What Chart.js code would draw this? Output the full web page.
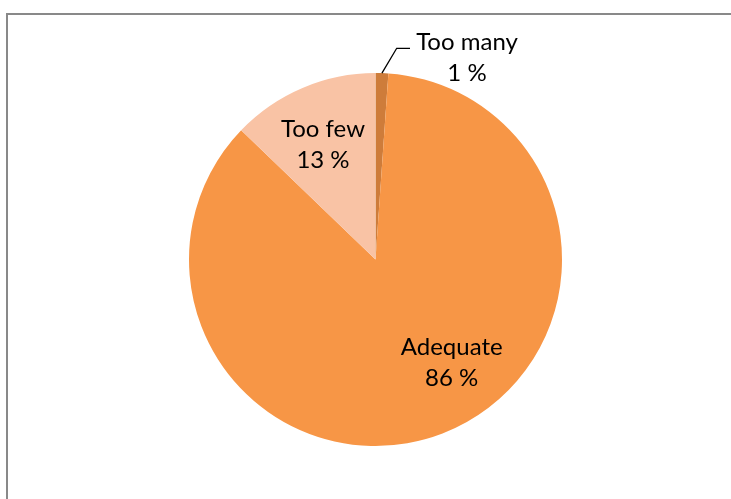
<!DOCTYPE html>
<html>
<head>
<meta charset="utf-8">
<script src="https://cdn.jsdelivr.net/npm/chart.js@4/dist/chart.umd.min.js"></script>
<style>
	body { margin: 0; background: #fff; }
	#wrap { position: relative; width: 731px; height: 499px; }
	#frame { position: absolute; left: 6px; top: 13px; right: 0; bottom: 0; border-top: 2px solid #898989; border-left: 2px solid #898989; }
</style>
</head>
<body>
<div id="wrap">
	<div id="frame"></div>
	<canvas id="pie1" width="731" height="499" style="position:absolute;left:0;top:0;"></canvas>
</div>
<script>
// data
var categories = ["Too many", "Adequate", "Too few"];
var shares = [1.1, 86.1, 12.8];
var shareLabels = ["1 %", "86 %", "13 %"];

var sliceColors = ['rgb(206, 124, 58)', 'rgb(247, 150, 70)', 'rgb(249, 195, 165)'];

// where each label sits, as fraction of the radius from the centre
var labelSpots = [
	{ dx: 0.4906, dy: -1.040, leader: true },
	{ dx: 0.4086, dy: 0.595 },
	{ dx: -0.2815, dy: -0.576 }
];

var pieLabels = {
	id: 'pieLabels',
	afterDatasetsDraw: function(chart) {
		var ctx = chart.ctx;
		var arcs = chart.getDatasetMeta(0).data;
		ctx.save();
		ctx.font = '24px Lato';
		ctx.fillStyle = '#000';
		ctx.textAlign = 'center';
		ctx.textBaseline = 'alphabetic';
		for (var i = 0; i < arcs.length; i++) {
			var a = arcs[i];
			var R = a.outerRadius;
			var sp = labelSpots[i];
			var x = a.x + sp.dx * R;
			var y = a.y + sp.dy * R;
			ctx.fillText(categories[i], x, y - 15.5);
			ctx.fillText(shareLabels[i], x, y + 15.5);
			if (sp.leader) {
				var mid = (a.startAngle + a.endAngle) / 2;
				ctx.beginPath();
				ctx.strokeStyle = '#000';
				ctx.lineWidth = 1.3;
				ctx.moveTo(a.x + Math.cos(mid) * R, a.y + Math.sin(mid) * R);
				ctx.lineTo(a.x + 0.1137 * R, a.y - 1.1325 * R);
				ctx.lineTo(a.x + 0.185 * R, a.y - 1.1325 * R);
				ctx.stroke();
			}
		}
		ctx.restore();
	}
};

var ctx = document.getElementById('pie1').getContext('2d');
var chart = new Chart(ctx, {
	type: 'pie',
	data: {
		labels: categories,
		datasets: [{
			data: shares,
			backgroundColor: sliceColors,
			borderWidth: 0
		}]
	},
	options: {
		responsive: false,
		animation: false,
		layout: { padding: { top: 73, bottom: 53, left: 20, right: 0 } },
		plugins: {
			legend: { display: false },
			tooltip: { enabled: false }
		}
	},
	plugins: [pieLabels]
});
</script>
</body>
</html>
